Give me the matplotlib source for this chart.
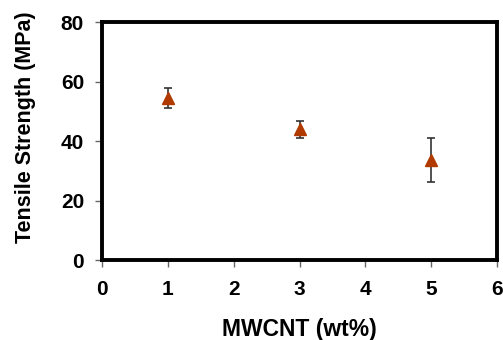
import numpy as np
import matplotlib.pyplot as plt

plt.rcParams['font.family'] = ['Liberation Sans', 'DejaVu Sans']

# datos
mwcnt = [1, 3, 5]
resistencia = [54.5, 43.9, 33.7]
error = [3.5, 2.7, 7.5]

fig = plt.figure(figsize=(5.03, 3.40), dpi=100)
ax = fig.add_axes([0.203, 0.235, 0.785, 0.70])

ax.errorbar(mwcnt, resistencia, yerr=error, fmt='^', color='#B03A00', markersize=8,
            ecolor='#333333', elinewidth=1.2, capsize=3, capthick=1.2)

ax.set_xlim(0, 6)
ax.set_ylim(0, 80)
ax.set_xticks(np.arange(0, 7, 1))
ax.set_yticks(np.arange(0, 81, 20))
for s in ax.spines.values():
    s.set_linewidth(2.8)
ax.tick_params(direction='out', length=5, width=1, labelsize=15, color='#666666')
ax.tick_params(axis='x', pad=9)
ax.tick_params(axis='y', pad=8)
for lbl in ax.get_xticklabels() + ax.get_yticklabels():
    lbl.set_fontweight('bold')

ax.set_xlabel('MWCNT (wt%)', fontsize=16.5, fontweight='bold')
ax.set_ylabel('Tensile Strength (MPa)', fontsize=15.5, fontweight='bold')
ax.xaxis.set_label_coords(0.5, -0.245)
ax.yaxis.set_label_coords(-0.168, 0.56)

fig.savefig('out.png', dpi=100)
